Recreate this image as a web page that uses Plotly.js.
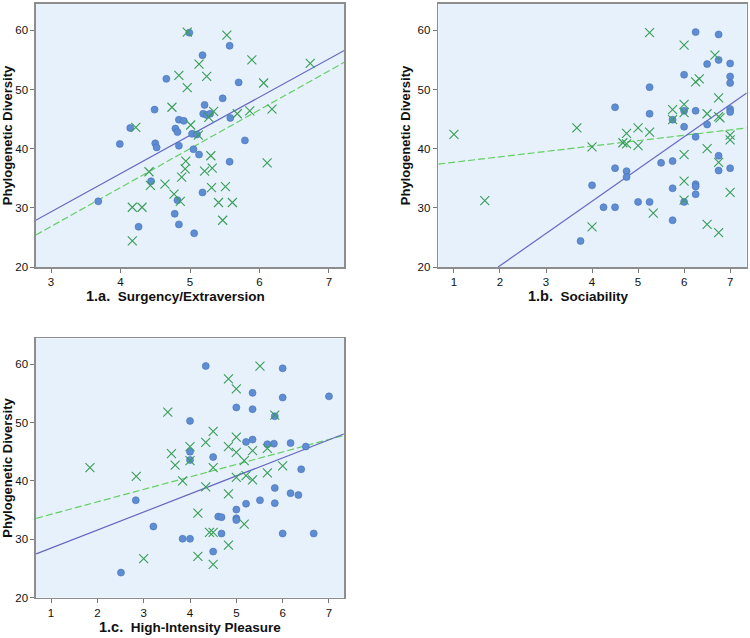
<!DOCTYPE html>
<html>
<head>
<meta charset="utf-8">
<script src="https://cdn.plot.ly/plotly-3.0.1.min.js"></script>
<style>html,body{margin:0;padding:0;background:#fff}#chart{width:750px;height:638px}</style>
</head>
<body>
<div id="chart"></div>
<script>
// ---------- Panel 1.a. Surgency/Extraversion ----------
const p1CircleX = [4.99,5.57,5.18,4.66,5.70,5.47,5.21,4.49,5.19,5.24,5.29,5.58,4.84,4.91,4.14,4.79,4.82,5.03,5.10,3.99,4.50,4.52,4.84,5.79,5.05,5.13,5.57,4.44,3.68,5.18,4.82,4.78,4.26,4.84,5.06];
const p1CircleY = [59.6,57.4,55.8,51.8,51.2,48.5,47.4,46.6,45.9,45.7,45.9,45.2,44.9,44.7,43.5,43.4,42.8,42.5,42.4,40.8,40.9,40.2,40.5,41.4,39.9,39.0,37.8,34.5,31.1,32.6,31.3,29.0,26.8,27.2,25.7];
const p1CrossX = [4.96,5.53,5.13,5.89,6.73,4.84,5.24,4.96,6.06,4.74,6.18,5.86,5.68,5.34,5.27,4.22,5.01,5.12,5.30,4.94,4.93,5.32,5.21,4.41,4.88,6.11,4.64,4.43,5.31,5.51,4.77,4.86,5.41,5.61,4.17,4.31,5.47,4.17];
const p1CrossY = [59.7,59.2,54.3,55.0,54.4,52.4,52.2,50.3,51.1,47.0,46.7,46.4,45.9,46.3,45.3,43.6,44.0,42.3,38.8,37.9,36.6,36.7,36.2,36.1,35.2,37.6,34.0,33.8,33.4,33.6,32.3,31.1,30.9,30.9,30.1,30.1,27.9,24.4];
const p1FitX = [2.78,7.22];
const p1FitCircleY = [27.9,56.6];
const p1FitCrossY = [25.4,54.6];

// ---------- Panel 1.b. Sociability ----------
const p2CircleX = [6.25,6.75,6.75,6.5,7.0,6.0,7.0,7.0,5.25,4.5,5.25,6.0,6.25,7.0,7.0,5.75,6.5,6.0,6.25,5.5,5.75,6.75,6.75,7.0,4.5,4.75,4.75,4.0,5.75,6.25,6.25,6.25,4.25,4.5,5.0,5.25,6.0,5.75,3.75];
const p2CircleY = [59.7,59.3,55.0,54.3,54.4,52.5,52.2,51.1,50.4,47.0,45.9,46.4,46.4,46.7,46.2,44.9,44.1,43.7,42.0,37.6,37.9,38.8,36.3,36.7,36.7,36.2,35.2,33.8,33.3,34.0,33.6,32.3,30.1,30.1,31.0,31.0,31.0,27.9,24.4];
const p2CrossX = [5.25,6.0,6.67,6.33,6.25,6.75,5.75,6.0,6.0,6.5,6.75,6.78,5.75,1.0,3.67,5.0,5.25,4.75,4.67,4.75,5.0,4.0,7.0,7.0,6.5,6.0,6.75,6.0,7.0,1.67,6.0,5.33,4.0,6.5,6.75];
const p2CrossY = [59.6,57.5,55.8,51.8,51.3,48.6,46.6,47.5,46.1,45.9,45.4,45.2,44.9,42.4,43.5,43.5,42.8,42.6,41.0,40.8,40.5,40.3,42.3,41.5,40.0,39.0,37.7,34.5,32.6,31.2,31.3,29.1,26.8,27.2,25.8];
const p2FitCircleX = [1.96,7.36];
const p2FitCircleY = [20.0,49.4];
const p2FitCrossX = [0.66,7.36];
const p2FitCrossY = [37.4,43.5];

// ---------- Panel 1.c. High-Intensity Pleasure ----------
const p3CircleX = [4.34,6.0,5.35,6.0,7.0,5.0,5.35,5.83,4.0,5.35,5.21,5.67,5.81,6.17,6.5,4.0,4.5,4.0,6.4,5.83,6.17,6.34,2.83,5.51,5.21,5.83,5.0,4.61,4.68,5.0,5.0,3.21,4.68,6.0,6.67,3.84,4.0,4.5,2.51];
const p3CircleY = [59.7,59.3,55.1,54.3,54.5,52.6,52.3,51.1,50.3,47.1,46.7,46.3,46.4,46.5,45.9,45.0,44.1,43.6,42.0,38.8,37.9,37.6,36.7,36.7,36.1,36.2,35.1,33.9,33.8,33.6,33.3,32.2,31.0,31.0,31.0,30.1,30.1,27.9,24.3];
const p3CrossX = [5.51,4.83,5.0,3.52,5.83,4.5,5.0,4.34,4.0,4.83,5.67,5.35,5.0,3.6,4.0,5.17,3.68,1.84,4.5,6.0,2.84,5.21,5.0,3.84,5.35,5.67,4.34,4.83,4.17,5.17,4.42,4.5,4.83,3.0,4.17,4.5];
const p3CrossY = [59.7,57.5,55.8,51.8,51.3,48.5,47.5,46.6,45.9,45.9,45.6,45.2,44.9,44.7,43.5,43.5,42.7,42.3,42.3,42.6,40.8,40.9,40.6,40.0,40.2,41.4,39.0,37.8,34.5,32.6,31.2,31.2,29.0,26.7,27.1,25.7];
const p3FitX = [0.68,7.32];
const p3FitCircleY = [27.5,48.05];
const p3FitCrossY = [33.6,47.8];

const xTitles = ["1.a.", "1.b.", "1.c."];
const xNames = ["Surgency/Extraversion", "Sociability", "High-Intensity Pleasure"];
const yTitle = "Phylogenetic Diversity";

const circleColor = '#5e8dd3';
const circleEdge = '#4670b5';
const crossColor = '#3a9d58';
const lineBlue = '#6568c0';
const lineGreen = '#63cf63';

function circles(x, y, ax) {
  return {x: x, y: y, xaxis: 'x' + ax, yaxis: 'y' + ax, type: 'scatter', mode: 'markers',
    marker: {symbol: 'circle', size: 7, color: circleColor, line: {color: circleEdge, width: 0.6}},
    showlegend: false, hoverinfo: 'x+y'};
}
function crosses(x, y, ax) {
  return {x: x, y: y, xaxis: 'x' + ax, yaxis: 'y' + ax, type: 'scatter', mode: 'markers',
    marker: {symbol: 'x-thin-open', size: 9, color: crossColor, line: {color: crossColor, width: 1.1}},
    showlegend: false, hoverinfo: 'x+y'};
}
function fit(x, y, ax, color, dash) {
  return {x: x, y: y, xaxis: 'x' + ax, yaxis: 'y' + ax, type: 'scatter', mode: 'lines',
    line: {color: color, width: 1.2, dash: dash}, showlegend: false, hoverinfo: 'skip'};
}

const data = [
  fit(p1FitX, p1FitCrossY, '', lineGreen, '7px,3px'),
  fit(p1FitX, p1FitCircleY, '', lineBlue, 'solid'),
  circles(p1CircleX, p1CircleY, ''),
  crosses(p1CrossX, p1CrossY, ''),
  fit(p2FitCrossX, p2FitCrossY, '2', lineGreen, '7px,3px'),
  fit(p2FitCircleX, p2FitCircleY, '2', lineBlue, 'solid'),
  circles(p2CircleX, p2CircleY, '2'),
  crosses(p2CrossX, p2CrossY, '2'),
  fit(p3FitX, p3FitCrossY, '3', lineGreen, '7px,3px'),
  fit(p3FitX, p3FitCircleY, '3', lineBlue, 'solid'),
  circles(p3CircleX, p3CircleY, '3'),
  crosses(p3CrossX, p3CrossY, '3')
];

const W = 750, H = 638;
const font = 'Arial, "Liberation Sans", sans-serif';
function xAxis(domain, range, anchor, ticks) {
  return {domain: domain, range: range, anchor: anchor, tickvals: ticks,
    showgrid: false, zeroline: false, showline: true, mirror: true, linecolor: '#8d8d8d', linewidth: 1.6,
    ticks: 'outside', ticklen: 4, tickcolor: '#777', tickwidth: 1,
    tickfont: {family: font, size: 11.5, color: '#111'}, fixedrange: true};
}
function yAxis(domain, anchor) {
  return {domain: domain, range: [20, 64.45], anchor: anchor, tickvals: [20,30,40,50,60],
    showgrid: false, zeroline: false, showline: true, mirror: true, linecolor: '#8d8d8d', linewidth: 1.6,
    ticks: 'outside', ticklen: 4, tickcolor: '#777', tickwidth: 1,
    tickfont: {family: font, size: 11.5, color: '#111'}, fixedrange: true,
    title: {text: '<b>' + yTitle + '</b>', font: {family: font, size: 13, color: '#111'}, standoff: 4}};
}
const top1 = [1 - 267/H, 1 - 4/H];
const top3 = [1 - 597.7/H, 1 - 338.3/H];
const left = [36/W, 344/W];
const right = [438.3/W, 746.7/W];

function xLabel(i, xc, yc) {
  return {xref: 'paper', yref: 'paper', x: xc / W, y: 1 - yc / H, xanchor: 'center', yanchor: 'middle',
    showarrow: false, font: {family: font, size: 13.5, color: '#111'},
    text: '<b><span style="font-size:14.5px">' + xTitles[i] + '</span>  ' + xNames[i] + '</b>'};
}

const layout = {
  width: W, height: H,
  margin: {l: 0, r: 0, t: 0, b: 0},
  paper_bgcolor: '#ffffff',
  plot_bgcolor: '#e6f1fc',
  showlegend: false,
  xaxis: xAxis(left, [2.784, 7.216], 'y', [3,4,5,6,7]),
  yaxis: yAxis(top1, 'x'),
  xaxis2: xAxis(right, [0.66, 7.36], 'y2', [1,2,3,4,5,6,7]),
  yaxis2: yAxis(top1, 'x2'),
  xaxis3: xAxis(left, [0.676, 7.324], 'y3', [1,2,3,4,5,6,7]),
  yaxis3: yAxis(top3, 'x3'),
  annotations: [xLabel(0, 175, 296.5), xLabel(1, 578, 296.5), xLabel(2, 190, 627)]
};

Plotly.newPlot('chart', data, layout, {displayModeBar: false, staticPlot: true});
</script>
</body>
</html>
